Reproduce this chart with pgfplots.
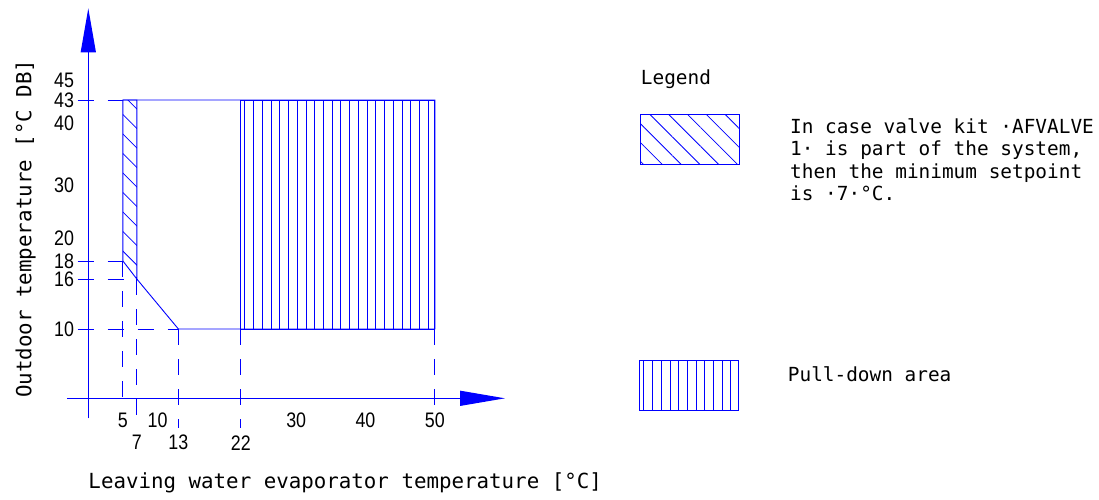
\documentclass[border=0pt]{standalone}
\usepackage{pgfplots}
\pgfplotsset{compat=1.18}
\usepackage{fontspec}
\setmainfont{DejaVu Sans Mono}
\newfontfamily\tickfont[FakeStretch=0.85]{Liberation Sans}
\usetikzlibrary{patterns.meta,arrows.meta}

% schematic (non-uniform) vertical scale of the drawing: value -> height above the x axis
\newcommand\ymapcompute[1]{%
  \begingroup
  \pgfkeys{/pgf/fpu=true,/pgf/fpu/output format=fixed}%
  \pgfmathparse{#1}\let\ymapv\pgfmathresult
  \pgfkeys{/pgf/fpu=false}%
  \pgfmathparse{(\ymapv<10) ? (6.93*\ymapv) : ((\ymapv<16) ? (69.3+8.3333*(\ymapv-10)) : ((\ymapv<18) ? (119.3+9*(\ymapv-16)) : ((\ymapv<20) ? (137.3+11.5*(\ymapv-18)) : ((\ymapv<30) ? (160.3+5.3*(\ymapv-20)) : ((\ymapv<40) ? (213.3+6.15*(\ymapv-30)) : ((\ymapv<43) ? (274.8+7.8333*(\ymapv-40)) : (298.3+10*(\ymapv-43))))))))}%
  \xdef\ymapresult{\pgfmathresult}%
  \endgroup
  \let\pgfmathresult\ymapresult}
\pgfplotsset{envelope/.style={y coord trafo/.code={\ymapcompute{##1}}}}

\begin{document}
\begin{tikzpicture}
\begin{axis}[
  envelope,
  x=6.93pt, y=1pt,
  xmin=0, xmax=50, ymin=0, ymax=45,
  clip=false,
  axis x line*=bottom, axis y line*=left,
  axis line style={draw=none},
  major tick length=0pt,
  tick style={draw=none},
  xtick={5,10,30,40,50}, xticklabels={5,10,30,40,50},
  extra x ticks={7,13,22}, extra x tick labels={7,13,22},
  extra x tick style={xticklabel style={yshift=-22.4pt}},
  ytick={10,16,18,20,30,40,43,45}, yticklabels={10,16,18,20,30,40,43,45},
  ticklabel style={font=\tickfont\fontsize{21}{22}\selectfont, inner sep=0pt},
  xticklabel style={anchor=center, yshift=-22pt},
  yticklabel style={anchor=east, xshift=-14pt},
  xlabel={Leaving water evaporator temperature [°C]},
  ylabel={Outdoor temperature [°C DB]},
  label style={font=\fontsize{20.8}{24}\selectfont, inner sep=0pt},
  xlabel style={at={([shift={(0pt,-89.7pt)}]rel axis cs:0,0)}, anchor=base west},
  ylabel style={at={([shift={(-56.8pt,0.3pt)}]rel axis cs:0,0)}, anchor=base west},
]
\coordinate (O) at (axis cs:0,0);
% axes with arrows
\draw[blue, line width=1.2pt, -{Triangle[length=45pt, width=15pt]}] (axis cs:-3.03,0) -- (axis cs:60.13,0);
\draw[blue, line width=1.2pt, -{Triangle[length=44pt, width=15pt]}] (axis cs:0,-2.89) -- (axis cs:0,52.17);

% hatched area (valve kit)
\addplot[blue, line width=0.9pt, pattern={Lines[angle=-45,distance=13.8pt,line width=0.8pt]}, pattern color=blue]
  coordinates {(5,18) (7,16) (7,43) (5,43)} -- cycle;
% pull-down area
\addplot[blue, line width=0.9pt, pattern={Lines[angle=90,distance=8.74pt,line width=0.8pt]}, pattern color=blue]
  coordinates {(22,10) (50,10) (50,43) (22,43)} -- cycle;
% envelope outline
\addplot[blue, line width=0.9pt] coordinates {(5,43) (50,43) (50,10) (13,10) (7,16)};

% dashed reference lines
\addplot[blue, line width=0.9pt, dash pattern=on 16pt off 14pt] coordinates {(-1.53,43) (5,43)};
\addplot[blue, line width=0.9pt, dash pattern=on 16pt off 14pt] coordinates {(-1.53,18) (5,18)};
\addplot[blue, line width=0.9pt, dash pattern=on 16pt off 14pt] coordinates {(-1.53,16) (7,16)};
\addplot[blue, line width=0.9pt, dash pattern=on 16pt off 14pt] coordinates {(-1.53,10) (13,10)};
\addplot[blue, line width=0.9pt, dash pattern=on 16pt off 14pt] coordinates {(5,18) (5,-1.44)};
\addplot[blue, line width=0.9pt, dash pattern=on 16pt off 14pt] coordinates {(7,16) (7,-4.33)};
\addplot[blue, line width=0.9pt, dash pattern=on 16pt off 14pt] coordinates {(13,10) (13,-4.33)};
\addplot[blue, line width=0.9pt, dash pattern=on 16pt off 14pt] coordinates {(22,10) (22,-4.33)};
\addplot[blue, line width=0.9pt, dash pattern=on 16pt off 14pt] coordinates {(50,10) (50,-1.44)};
\end{axis}

% legend
\node[anchor=base west, inner sep=0pt, font=\fontsize{19.4}{22}\selectfont] at ([shift={(552.4pt,314pt)}]O) {Legend};
\draw[blue, line width=0.9pt, pattern={Lines[angle=-45,distance=13.3pt,line width=0.8pt]}, pattern color=blue]
  ([shift={(552.4pt,234.3pt)}]O) rectangle ([shift={(651pt,284pt)}]O);
\begin{scope}[every node/.style={anchor=base west, inner sep=0pt, font=\fontsize{19.4}{22}\selectfont}]
\node at ([shift={(701.7pt,265pt)}]O) {In case valve kit ·AFVALVE};
\node at ([shift={(701.7pt,242.4pt)}]O) {1· is part of the system,};
\node at ([shift={(701.7pt,220pt)}]O) {then the minimum setpoint};
\node at ([shift={(701.7pt,197.6pt)}]O) {is ·7·°C.};
\node at ([shift={(699.4pt,17.3pt)}]O) {Pull-down area};
\end{scope}
\draw[blue, line width=0.9pt, pattern={Lines[angle=90,distance=8.7pt,line width=0.8pt]}, pattern color=blue]
  ([shift={(550.7pt,-11.7pt)}]O) rectangle ([shift={(649.7pt,38.3pt)}]O);

\pgfresetboundingbox
\path[use as bounding box] ([shift={(-88.3pt,-100.7pt)}]O) rectangle ([shift={(1010.7pt,398.3pt)}]O);
\end{tikzpicture}
\end{document}
